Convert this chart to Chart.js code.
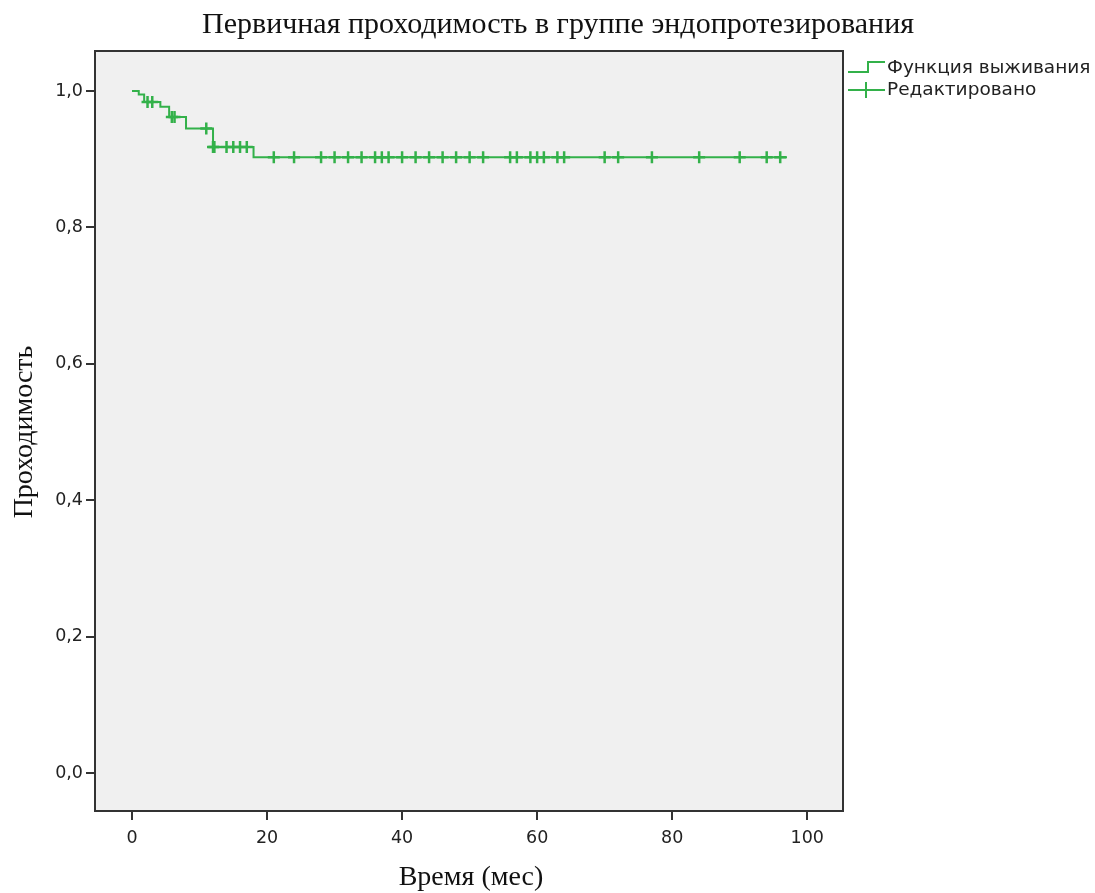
<!DOCTYPE html>
<html>
<head>
<meta charset="utf-8">
<script src="https://cdn.jsdelivr.net/npm/chart.js@4/dist/chart.umd.min.js"></script>
<style>
  html, body { margin: 0; padding: 0; background: #ffffff; }
  #wrap { width: 1095px; height: 893px; position: relative; }
</style>
</head>
<body>
<div id="wrap"><canvas id="c" width="1095" height="893"></canvas></div>
<script>
// ---- Data ----
const chartTitle = 'Первичная проходимость в группе эндопротезирования';
const xTitle = 'Время (мес)';
const yTitle = 'Проходимость';
const legendLabels = ['Функция выживания', 'Редактировано'];

// Kaplan–Meier step function: event times and survival after each event
const stepTimes = [0, 1, 1.8, 4.2, 5.5, 8, 12, 18, 97];
const survival  = [1.0, 0.995, 0.984, 0.977, 0.962, 0.945, 0.918, 0.903, 0.903];

// Censored observations (months)
const censorTimes = [2.3, 3.0, 5.9, 6.3, 11, 12, 12.2, 14, 15, 16, 17, 21, 24, 28, 30, 32, 34, 36, 37, 38,
                     40, 42, 44, 46, 48, 50, 52, 56, 57, 59, 60, 61, 63, 64, 70, 72, 77, 84, 90, 94, 96];

const xTicks = [0, 20, 40, 60, 80, 100];
const yTicks = [0, 0.2, 0.4, 0.6, 0.8, 1.0];

// ---- Build datasets ----
const green = '#33b14a';
const curvePoints = stepTimes.map((t, i) => ({ x: t, y: survival[i] }));
function survAt(t) {
  let s = survival[0];
  for (let i = 0; i < stepTimes.length; i++) { if (stepTimes[i] <= t) s = survival[i]; }
  return s;
}
const censorPoints = censorTimes.map(t => ({ x: t, y: survAt(t) }));

const frameColor = '#333333';

const decor = {
  id: 'decor',
  beforeDraw(chart) {
    const { ctx, chartArea: a } = chart;
    ctx.save();
    ctx.fillStyle = '#f0f0f0';
    ctx.fillRect(a.left, a.top, a.right - a.left, a.bottom - a.top);
    ctx.restore();
  },
  afterDraw(chart) {
    const { ctx, chartArea: a } = chart;
    ctx.save();
    // frame
    ctx.strokeStyle = frameColor;
    ctx.lineWidth = 2;
    ctx.strokeRect(a.left, a.top, a.right - a.left, a.bottom - a.top);
    // title
    ctx.fillStyle = '#111';
    ctx.textAlign = 'center';
    ctx.textBaseline = 'middle';
    ctx.font = '30px "Liberation Serif", "DejaVu Serif", serif';
    ctx.fillText(chartTitle, 558, 25);
    // axis titles
    ctx.font = '28px "Liberation Serif", "DejaVu Serif", serif';
    ctx.fillText(xTitle, 471, 878);
    ctx.save();
    ctx.translate(25, 432);
    ctx.rotate(-Math.PI / 2);
    ctx.fillText(yTitle, 0, 0);
    ctx.restore();
    // legend
    ctx.strokeStyle = green;
    ctx.lineWidth = 2;
    ctx.beginPath();
    ctx.moveTo(848, 72); ctx.lineTo(868, 72); ctx.lineTo(868, 62); ctx.lineTo(885, 62);
    ctx.stroke();
    ctx.beginPath();
    ctx.moveTo(848, 90); ctx.lineTo(885, 90);
    ctx.moveTo(866, 82); ctx.lineTo(866, 98);
    ctx.stroke();
    ctx.fillStyle = '#222';
    ctx.textAlign = 'left';
    ctx.font = '18.5px "DejaVu Sans", sans-serif';
    ctx.fillText(legendLabels[0], 887, 68);
    ctx.fillText(legendLabels[1], 887, 90);
    ctx.restore();
  }
};

new Chart(document.getElementById('c'), {
  type: 'scatter',
  data: {
    datasets: [
      {
        label: legendLabels[0],
        data: curvePoints,
        showLine: true,
        stepped: 'before',
        borderColor: green,
        borderWidth: 2,
        pointRadius: 0,
        fill: false
      },
      {
        label: legendLabels[1],
        data: censorPoints,
        showLine: false,
        pointStyle: 'cross',
        pointRadius: 6,
        borderColor: green,
        backgroundColor: green,
        pointBorderWidth: 2.5
      }
    ]
  },
  options: {
    responsive: false,
    animation: false,
    layout: { padding: { top: 51, right: 252, left: 0, bottom: 0 } },
    plugins: { legend: { display: false }, title: { display: false }, tooltip: { enabled: false } },
    scales: {
      x: {
        type: 'linear',
        min: -5.48,
        max: 105.3,
        afterFit(s) { s.height = 82; },
        afterBuildTicks(s) { s.ticks = xTicks.map(v => ({ value: v })); },
        border: { display: false },
        grid: { display: true, drawOnChartArea: false, drawTicks: true, tickLength: 9, color: frameColor, lineWidth: 2 },
        ticks: { padding: 8, color: '#222', font: { family: '"DejaVu Sans", sans-serif', size: 17.5 }, maxRotation: 0, autoSkip: false }
      },
      y: {
        type: 'linear',
        min: -0.0557,
        max: 1.0587,
        afterFit(s) { s.width = 95; },
        afterBuildTicks(s) { s.ticks = yTicks.map(v => ({ value: v })); },
        border: { display: false },
        grid: { display: true, drawOnChartArea: false, drawTicks: true, tickLength: 9, color: frameColor, lineWidth: 2 },
        ticks: {
          padding: 3, color: '#222', font: { family: '"DejaVu Sans", sans-serif', size: 17.5 }, autoSkip: false,
          callback: v => v.toFixed(1).replace('.', ',')
        }
      }
    }
  },
  plugins: [decor]
});
</script>
</body>
</html>
